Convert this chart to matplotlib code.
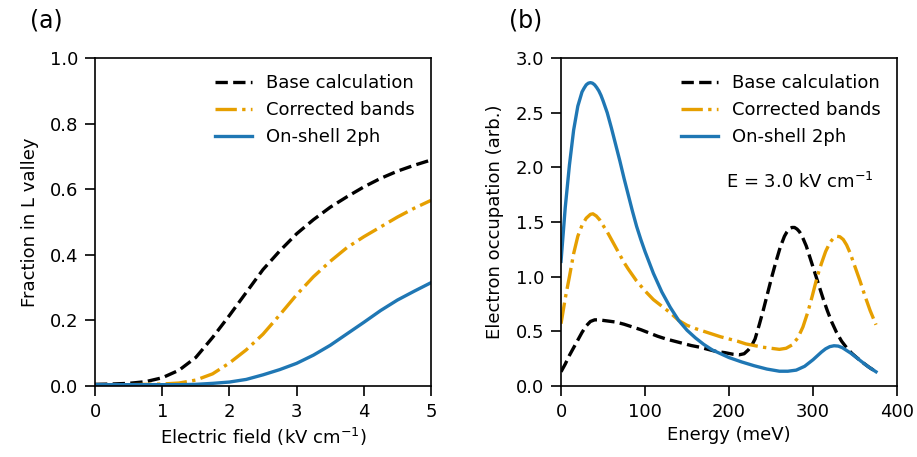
import numpy as np
import matplotlib.pyplot as plt

# (a) fraction in L valley vs field
field = [0, 0.25, 0.5, 0.75, 1.0, 1.25, 1.5, 1.75, 2.0, 2.25, 2.5, 2.75, 3.0,
         3.25, 3.5, 3.75, 4.0, 4.25, 4.5, 4.75, 5.0]
frac_base = [0.005, 0.006, 0.008, 0.013, 0.025, 0.048, 0.087, 0.148, 0.215, 0.285, 0.355,
             0.412, 0.464, 0.507, 0.545, 0.577, 0.607, 0.633, 0.655, 0.673, 0.689]
frac_corr = [0.004, 0.004, 0.004, 0.005, 0.006, 0.009, 0.018, 0.037, 0.07, 0.11, 0.158,
             0.217, 0.278, 0.333, 0.38, 0.422, 0.455, 0.485, 0.515, 0.542, 0.566]
frac_2ph = [0.004, 0.004, 0.004, 0.004, 0.004, 0.004, 0.005, 0.008, 0.012, 0.02, 0.034,
            0.05, 0.069, 0.094, 0.124, 0.159, 0.194, 0.23, 0.262, 0.289, 0.315]

# (b) occupation vs energy at 3 kV/cm
en_base = [0, 5, 10, 15, 20, 25, 30, 35, 40, 45, 55, 65, 75, 85, 95, 105, 115, 125, 135,
           145, 155, 165, 175, 185, 195, 205, 212, 218, 223, 227, 231, 236, 241, 246, 251,
           256, 261, 266, 269, 272, 275, 278, 281, 284, 287, 292, 297, 302, 307, 312, 317,
           322, 328, 334, 340, 346, 352, 360, 367, 375]
occ_base = [0.13, 0.2, 0.28, 0.35, 0.42, 0.49, 0.55, 0.59, 0.605, 0.605, 0.595, 0.585,
            0.565, 0.54, 0.515, 0.485, 0.455, 0.43, 0.41, 0.39, 0.37, 0.355, 0.335, 0.315,
            0.305, 0.29, 0.285, 0.295, 0.33, 0.37, 0.43, 0.56, 0.70, 0.85, 1.0, 1.14, 1.27,
            1.37, 1.41, 1.44, 1.45, 1.45, 1.435, 1.41, 1.37, 1.28, 1.16, 1.04, 0.92, 0.80,
            0.69, 0.59, 0.49, 0.41, 0.35, 0.30, 0.26, 0.21, 0.17, 0.13]

en_corr = [0, 5, 10, 15, 20, 25, 30, 35, 38, 42, 46, 50, 55, 60, 65, 70, 75, 80, 90, 100,
           110, 120, 130, 140, 150, 160, 170, 180, 190, 200, 210, 220, 230, 240, 250, 260,
           268, 275, 282, 288, 294, 299, 305, 310, 315, 320, 324, 328, 332, 336, 340, 344,
           350, 356, 362, 368, 375]
occ_corr = [0.57, 0.80, 1.0, 1.21, 1.37, 1.47, 1.535, 1.57, 1.575, 1.555, 1.52, 1.47, 1.41,
            1.34, 1.27, 1.20, 1.13, 1.07, 0.96, 0.87, 0.79, 0.73, 0.67, 0.60, 0.555, 0.525,
            0.50, 0.475, 0.45, 0.43, 0.41, 0.385, 0.37, 0.355, 0.345, 0.335, 0.345, 0.375,
            0.44, 0.54, 0.68, 0.82, 1.0, 1.12, 1.23, 1.31, 1.35, 1.37, 1.365, 1.34, 1.29,
            1.22, 1.09, 0.96, 0.82, 0.69, 0.56]

en_2ph = [0, 5, 10, 15, 20, 25, 27.5, 30, 32.5, 35, 37.5, 40, 42.5, 45, 47.5, 50, 55, 60,
          65, 70, 75, 80, 85, 90, 95, 100, 110, 120, 130, 140, 150, 160, 170, 180, 190,
          200, 215, 230, 245, 260, 270, 280, 290, 300, 310, 315, 320, 325, 330, 335, 340,
          345, 355, 365, 375]
occ_2ph = [1.14, 1.63, 2.02, 2.34, 2.56, 2.69, 2.725, 2.755, 2.77, 2.775, 2.77, 2.755,
           2.73, 2.70, 2.66, 2.61, 2.50, 2.36, 2.21, 2.06, 1.90, 1.75, 1.60, 1.46, 1.34,
           1.23, 1.03, 0.86, 0.72, 0.60, 0.51, 0.44, 0.38, 0.33, 0.295, 0.26, 0.22, 0.185,
           0.155, 0.135, 0.135, 0.145, 0.18, 0.24, 0.31, 0.34, 0.36, 0.368, 0.365, 0.35,
           0.325, 0.30, 0.24, 0.18, 0.13]

orange = '#E69F00'
blue = '#1f77b4'
fs = 13
lw = 2.4

plt.rcParams['axes.linewidth'] = 1.2

fig = plt.figure(figsize=(9.17, 4.57), dpi=100)
ax1 = fig.add_axes([0.1036, 0.1554, 0.3664, 0.7176])
ax2 = fig.add_axes([0.6118, 0.1554, 0.3664, 0.7176])

ax1.plot(field, frac_base, '--', color='k', lw=lw, label='Base calculation')
ax1.plot(field, frac_corr, '-.', color=orange, lw=lw, label='Corrected bands')
ax1.plot(field, frac_2ph, '-', color=blue, lw=lw, label='On-shell 2ph')
ax1.set_xlim(0, 5)
ax1.set_ylim(0, 1)
ax1.set_xlabel('Electric field (kV cm$^{-1}$)', fontsize=fs)
ax1.set_ylabel('Fraction in L valley', fontsize=fs, labelpad=8)
ax1.legend(loc='upper right', frameon=False, fontsize=fs)

ax2.plot(en_base, occ_base, '--', color='k', lw=lw, label='Base calculation')
ax2.plot(en_corr, occ_corr, '-.', color=orange, lw=lw, label='Corrected bands')
ax2.plot(en_2ph, occ_2ph, '-', color=blue, lw=lw, label='On-shell 2ph')
ax2.set_xlim(0, 400)
ax2.set_ylim(0, 3)
ax2.set_xlabel('Energy (meV)', fontsize=fs)
ax2.set_ylabel('Electron occupation (arb.)', fontsize=fs, labelpad=8)
ax2.legend(loc='upper right', frameon=False, fontsize=fs)
ax2.text(197, 1.87, 'E = 3.0 kV cm$^{-1}$', fontsize=fs, va='center')

for ax in (ax1, ax2):
    ax.tick_params(labelsize=fs, length=7, width=1.2, pad=5)

fig.text(0.033, 0.955, '(a)', fontsize=17, va='center')
fig.text(0.555, 0.955, '(b)', fontsize=17, va='center')

fig.savefig('out.png', dpi=100)
